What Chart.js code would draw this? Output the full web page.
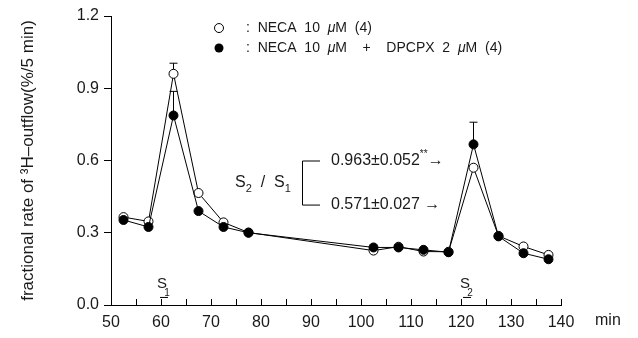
<!DOCTYPE html>
<html>
<head>
<meta charset="utf-8">
<script src="https://cdn.jsdelivr.net/npm/chart.js@4.4.0/dist/chart.umd.min.js"></script>
<style>
  html, body { margin: 0; padding: 0; background: #fff; }
  #wrap { width: 638px; height: 338px; }
</style>
</head>
<body>
<div id="wrap"><canvas id="outflowChart"></canvas></div>
<script>
// collection periods (min), midpoints of 5 min fractions
const times = [52.5, 57.5, 62.5, 67.5, 72.5, 77.5, 102.5, 107.5, 112.5, 117.5, 122.5, 127.5, 132.5, 137.5];

// NECA 10 uM (4)
const necaValues = [0.365, 0.347, 0.960, 0.465, 0.343, 0.301, 0.226, 0.242, 0.222, 0.221, 0.570, 0.287, 0.243, 0.208];
const necaSem    = [null, null, 0.044, null, null, null, null, null, null, null, null, null, null, null];

// NECA 10 uM + DPCPX 2 uM (4)
const dpcpxValues = [0.353, 0.324, 0.787, 0.390, 0.324, 0.300, 0.239, 0.239, 0.229, 0.219, 0.667, 0.285, 0.215, 0.190];
const dpcpxSem    = [null, null, 0.100, null, null, null, null, null, null, null, 0.092, null, null, null];

const xTicks = [50, 60, 70, 80, 90, 100, 110, 120, 130, 140];
const xMinorTicks = [50, 55, 60, 65, 70, 75, 80, 85, 90, 95, 100, 105, 110, 115, 120, 125, 130, 135, 140];
const yTicks = [0, 0.3, 0.6, 0.9, 1.2];

const FONT = '"Liberation Sans", Arial, sans-serif';
const INK = '#1a1a1a';

Chart.defaults.font.family = FONT;
Chart.defaults.font.size = 16;
Chart.defaults.color = INK;

// draw a row of text pieces (for sub/superscripts and italic mu)
function drawRuns(ctx, x, y, runs, baseFont) {
  for (const r of runs) {
    ctx.font = r.font || baseFont;
    ctx.fillText(r.t, x, y + (r.dy || 0));
    x += ctx.measureText(r.t).width;
  }
  return x;
}

const decorations = {
  id: 'decorations',
  beforeDatasetsDraw(chart) {
    const { ctx, scales: { x, y } } = chart;
    ctx.save();
    ctx.strokeStyle = '#000';
    ctx.lineWidth = 1;
    const bars = [[necaValues, necaSem], [dpcpxValues, dpcpxSem]];
    bars.forEach(([vals, sem]) => {
      vals.forEach((v, i) => {
        if (sem[i] == null) return;
        const px = x.getPixelForValue(times[i]);
        const y0 = y.getPixelForValue(v);
        const y1 = y.getPixelForValue(v + sem[i]);
        ctx.beginPath();
        ctx.moveTo(px, y0);
        ctx.lineTo(px, y1);
        ctx.moveTo(px - 4, y1);
        ctx.lineTo(px + 4, y1);
        ctx.stroke();
      });
    });
    ctx.restore();
  },
  afterDraw(chart) {
    const { ctx, chartArea, scales: { x, y } } = chart;
    ctx.save();
    ctx.strokeStyle = '#000';
    ctx.fillStyle = INK;
    ctx.lineWidth = 1;

    // inward ticks on the time axis
    ctx.beginPath();
    xMinorTicks.forEach(v => {
      const px = Math.round(x.getPixelForValue(v)) + 0.5;
      ctx.moveTo(px, chartArea.bottom);
      ctx.lineTo(px, chartArea.bottom - 6);
    });
    ctx.stroke();

    ctx.textBaseline = 'middle';
    ctx.textAlign = 'left';
    ctx.font = '16px ' + FONT;
    ctx.fillText('min', chartArea.right + 34, chartArea.bottom + 16);

    // legend
    const lx = x.getPixelForValue(71.6);
    const ly1 = y.getPixelForValue(1.15);
    const ly2 = y.getPixelForValue(1.067);
    ctx.beginPath();
    ctx.arc(lx, ly1, 4.5, 0, Math.PI * 2);
    ctx.fillStyle = '#fff';
    ctx.fill();
    ctx.stroke();
    ctx.beginPath();
    ctx.arc(lx, ly2, 4.5, 0, Math.PI * 2);
    ctx.fillStyle = '#000';
    ctx.fill();
    ctx.fillStyle = INK;
    const tx = lx + 27;
    const lf = '14px ' + FONT;
    const mu = 'italic 14px ' + FONT;
    drawRuns(ctx, tx, ly1, [{ t: ':  NECA  10  ' }, { t: 'μ', font: mu }, { t: 'M  (4)' }], lf);
    drawRuns(ctx, tx, ly2, [{ t: ':  NECA  10  ' }, { t: 'μ', font: mu }, { t: 'M    +    DPCPX  2  ' },
      { t: 'μ', font: mu }, { t: 'M  (4)' }], lf);

    // S2 / S1 bracket
    const bx = x.getPixelForValue(88.2);
    const bx2 = x.getPixelForValue(91.8);
    const bt = y.getPixelForValue(0.6);
    const bb = y.getPixelForValue(0.417);
    ctx.beginPath();
    ctx.moveTo(bx2, bt + 0.5);
    ctx.lineTo(bx + 0.5, bt + 0.5);
    ctx.lineTo(bx + 0.5, bb + 0.5);
    ctx.lineTo(bx2, bb + 0.5);
    ctx.stroke();

    const sf = '16px ' + FONT;
    const sub = '11px ' + FONT;
    drawRuns(ctx, x.getPixelForValue(74.8), y.getPixelForValue(0.508), [
      { t: 'S' }, { t: '2', font: sub, dy: 6 }, { t: '  /  ' }, { t: 'S' }, { t: '1', font: sub, dy: 6 }
    ], sf);
    const vx = x.getPixelForValue(94);
    drawRuns(ctx, vx, bt, [{ t: '0.963±0.052' }, { t: '**', font: '10px ' + FONT, dy: -6 }, { t: '→' }], sf);
    drawRuns(ctx, vx, bb, [{ t: '0.571±0.027 →' }], sf);

    // stimulation periods
    [[60.4, '1'], [121, '2']].forEach(([v, n]) => {
      const sx = x.getPixelForValue(v);
      const sy = y.getPixelForValue(0.075);
      ctx.textAlign = 'center';
      ctx.font = '15px ' + FONT;
      ctx.fillText('S', sx - 1, sy - 3);
      ctx.font = '10px ' + FONT;
      ctx.fillText(n, sx + 4, sy + 6);
      ctx.beginPath();
      ctx.moveTo(sx - 3, sy + 10.5);
      ctx.lineTo(sx + 5, sy + 10.5);
      ctx.stroke();
    });
    ctx.restore();
  }
};

const ctx = document.getElementById('outflowChart').getContext('2d');

const outflowChart = new Chart(ctx, {
  type: 'line',
  data: {
    datasets: [
      {
        label: 'NECA 10 μM (4)',
        data: times.map((t, i) => ({ x: t, y: necaValues[i] })),
        borderColor: '#000',
        borderWidth: 1,
        backgroundColor: '#fff',
        pointBackgroundColor: '#fff',
        pointBorderColor: '#000',
        pointBorderWidth: 1,
        pointRadius: 4.5,
        tension: 0,
        order: 1
      },
      {
        label: 'NECA 10 μM + DPCPX 2 μM (4)',
        data: times.map((t, i) => ({ x: t, y: dpcpxValues[i] })),
        borderColor: '#000',
        borderWidth: 1,
        backgroundColor: '#000',
        pointBackgroundColor: '#000',
        pointBorderColor: '#000',
        pointBorderWidth: 1,
        pointRadius: 4.5,
        tension: 0,
        order: 0
      }
    ]
  },
  options: {
    responsive: true,
    maintainAspectRatio: false,
    animation: false,
    layout: { padding: { left: 0, right: 77, top: 16, bottom: 0 } },
    plugins: {
      legend: { display: false },
      tooltip: { enabled: false }
    },
    scales: {
      x: {
        type: 'linear',
        min: 50,
        max: 140,
        afterBuildTicks: s => { s.ticks = xTicks.map(v => ({ value: v })); },
        afterFit: s => { s.height = 33; },
        grid: { display: true, drawOnChartArea: false, drawTicks: false },
        border: { display: true, color: '#000', width: 1 },
        ticks: { padding: 8, maxRotation: 0, font: { size: 16 }, color: INK }
      },
      y: {
        min: 0,
        max: 1.2,
        afterBuildTicks: s => { s.ticks = yTicks.map(v => ({ value: v })); },
        afterFit: s => { s.width = 111; },
        grid: { display: true, drawOnChartArea: false, drawTicks: true, tickLength: 7, color: '#000' },
        border: { display: true, color: '#000', width: 1 },
        ticks: { padding: 5, font: { size: 16 }, color: INK, callback: v => v.toFixed(1) },
        title: {
          display: true,
          text: 'fractional rate of ³H–outflow(%/5 min)',
          font: { size: 17 },
          color: INK,
          padding: { top: 18, bottom: 0 }
        }
      }
    }
  },
  plugins: [decorations]
});
</script>
</body>
</html>
